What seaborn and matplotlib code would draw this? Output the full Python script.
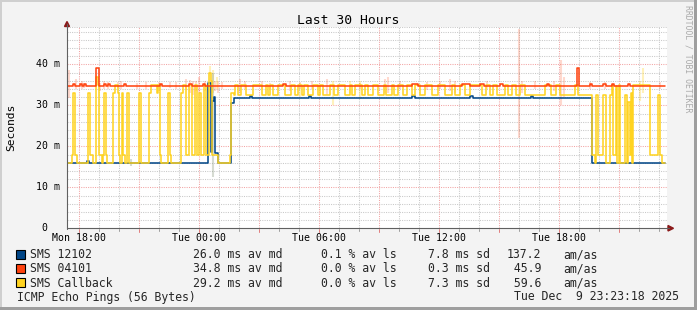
import numpy as np
import pandas as pd
import matplotlib
matplotlib.use("Agg")
import matplotlib.pyplot as plt
import seaborn as sns
from matplotlib.patches import Rectangle, Polygon
from matplotlib.lines import Line2D
from matplotlib.transforms import blended_transform_factory

W, H = 697, 310

# ---------------- data (time = hours since Mon 00:00, value = ms) ----------------
blue_t = [17.40, 18.40, 18.50, 24.45, 24.58, 24.67, 24.75, 24.82, 24.97, 25.60, 25.75,
          26.55, 26.65, 29.50, 29.60, 34.65, 34.80, 37.55, 37.70, 40.60, 40.70,
          43.63, 47.30]
blue_v = [16.0, 16.4, 16.0, 35.5, 18.5, 31.0, 32.0, 18.3, 16.0, 30.5, 31.9,
          32.3, 31.9, 32.3, 31.9, 32.3, 31.9, 32.3, 31.9, 32.3, 31.9,
          16.0, 16.0]

red_t = [17.40, 17.70, 17.80, 18.05, 18.15, 18.25, 18.35, 18.87, 19.02, 19.25, 19.35,
         19.45, 19.55, 20.25, 20.35, 22.05, 22.15, 23.50, 23.65, 24.20, 24.30,
         28.20, 28.35, 34.65, 34.95, 37.15, 37.55, 38.05, 38.25, 39.05, 39.20,
         41.40, 41.50, 42.875, 42.985, 43.55, 43.65, 44.20, 44.35, 44.65, 44.75,
         45.45, 45.55, 47.30]
red_v = [34.8, 35.1, 34.8, 35.1, 34.8, 35.1, 34.8, 39.0, 34.8, 35.1, 34.8,
         35.1, 34.8, 35.1, 34.8, 35.1, 34.8, 35.1, 34.8, 35.1, 34.8,
         35.1, 34.8, 35.1, 34.8, 35.2, 34.8, 35.1, 34.8, 35.1, 34.8,
         35.1, 34.8, 39.0, 34.8, 35.1, 34.8, 35.1, 34.8, 35.1, 34.8,
         35.1, 34.8, 34.8]

# SMS Callback: first part (oscillating between ~16 and ~35)
yel_a_t = [17.40, 17.65, 17.70, 17.79, 17.90, 18.45, 18.55, 18.69, 18.87, 18.97, 19.02,
           19.15, 19.20, 19.27, 19.37, 19.42, 19.72, 19.80, 19.97, 20.02, 20.07,
           20.14, 20.22, 20.28, 20.39, 20.50, 21.00, 21.10, 21.52, 21.60, 21.88,
           21.95, 22.04, 22.10, 22.47, 22.57, 22.62, 23.115, 23.20, 23.36, 23.52,
           23.64, 23.78, 23.88, 24.00, 24.12, 24.24, 24.34, 24.485, 24.575, 24.635,
           24.97, 25.57, 25.60, 25.75]
yel_a_v = [16.0, 18.0, 33.0, 18.0, 16.0, 33.0, 18.0, 16.0, 37.0, 35.0, 18.0,
           16.0, 18.0, 33.0, 18.0, 16.0, 33.0, 35.0, 33.0, 18.0, 16.0,
           33.0, 18.0, 16.0, 33.0, 16.0, 33.0, 16.0, 33.0, 35.0, 33.0,
           35.0, 18.0, 16.0, 33.0, 18.0, 16.0, 33.0, 35.0, 18.0, 35.0,
           18.0, 35.0, 18.0, 33.0, 18.0, 35.0, 18.0, 38.0, 36.0, 18.0,
           16.0, 18.0, 33.0, 32.4]
# middle part: pulses up to 35 ms from a 32.4 ms base
yel_hi_start = [25.80, 26.10, 26.70, 27.35, 27.55, 27.95, 28.60, 28.95, 29.25, 29.70,
                30.05, 30.55, 30.95, 31.55, 31.80, 32.30, 32.70, 33.25, 33.65, 33.95,
                34.40, 34.80, 35.30, 35.95, 36.65, 37.05, 37.55, 38.35, 38.70, 39.30,
                39.65, 40.05, 41.30, 41.85, 42.80]
yel_hi_end = [25.95, 26.35, 27.15, 27.45, 27.70, 28.30, 28.80, 29.15, 29.45, 29.95,
              30.20, 30.75, 31.30, 31.65, 32.15, 32.45, 32.95, 33.35, 33.75, 34.20,
              34.65, 35.05, 35.65, 36.30, 36.80, 37.30, 38.15, 38.55, 38.90, 39.45,
              39.85, 40.30, 41.60, 42.05, 42.95]
yel_hi_val = 35.0
yel_lo_val = 32.4
# last part
yel_c_t = [43.635, 43.80, 43.85, 43.97, 44.21, 44.33, 44.55, 44.65, 44.72, 44.85, 44.90,
           45.00, 45.07, 45.30, 45.40, 45.47, 45.55, 45.60, 45.65, 45.715, 46.55,
           46.965, 47.065, 47.15, 47.30]
yel_c_v = [18.0, 16.0, 32.6, 18.0, 32.6, 16.0, 32.6, 35.0, 18.0, 34.7, 16.0,
           35.0, 16.0, 32.6, 16.0, 30.8, 18.0, 33.0, 16.0, 35.0, 18.0,
           32.6, 18.0, 16.0, 16.0]

# "smoke" (spread of the pings) per host: time, low, high
red_smoke_t = [17.475, 17.85, 18.15, 18.25, 19.05, 19.25, 19.45, 19.95, 20.10, 20.90,
               21.35, 22.00, 22.55, 22.85, 23.35, 23.55, 23.70, 23.85, 24.00, 24.30,
               24.80, 24.95, 25.15, 26.05, 26.30, 27.15, 27.55, 28.55, 29.05, 29.65,
               30.40, 32.05, 33.30, 33.45, 34.05, 35.40, 36.05, 36.55, 36.80, 38.40,
               40.00, 40.15, 40.80, 41.75, 42.10, 42.25, 43.55, 44.30, 47.05]
red_smoke_lo = [31.7, 34.0, 34.0, 34.2, 33.5, 34.0, 34.0, 34.2, 34.0, 34.0,
                34.0, 33.5, 34.2, 34.0, 33.8, 33.0, 32.5, 33.5, 33.0, 33.5,
                33.5, 33.0, 34.0, 33.0, 34.0, 34.0, 34.0, 33.5, 34.0, 34.0,
                32.5, 34.0, 33.0, 33.0, 34.0, 33.8, 34.0, 33.5, 33.0, 34.0,
                22.0, 33.0, 34.0, 33.5, 30.0, 32.0, 34.0, 34.0, 34.0]
red_smoke_hi = [38.5, 36.5, 36.0, 35.5, 35.5, 36.0, 35.8, 35.8, 36.0, 35.5,
                35.6, 35.8, 35.6, 35.8, 36.5, 36.2, 36.0, 36.0, 37.0, 36.0,
                36.0, 36.0, 35.8, 36.5, 36.0, 36.0, 35.5, 36.0, 35.8, 36.0,
                36.5, 35.5, 36.5, 37.0, 36.0, 35.8, 36.0, 36.5, 36.0, 36.0,
                48.5, 36.0, 36.0, 36.0, 41.0, 37.0, 35.6, 35.6, 35.6]
yel_smoke_t = [24.55, 24.70, 24.90, 29.05, 30.70, 31.55, 32.05, 46.05, 46.20]
yel_smoke_lo = [33.0, 33.0, 34.0, 32.0, 30.0, 33.0, 31.5, 31.0, 33.0]
yel_smoke_hi = [39.5, 38.5, 37.0, 35.5, 36.0, 36.0, 36.0, 36.0, 39.0]
blue_smoke_t = [20.575, 24.675]
blue_smoke_lo = [15.3, 12.5]
blue_smoke_hi = [17.0, 38.0]

hosts = ["SMS 12102", "SMS 04101", "SMS Callback"]
colors = ["#004586", "#ff420e", "#ffd320"]
legend_avg = ["26.0 ms av md", "34.8 ms av md", "29.2 ms av md"]
legend_loss = ["0.1 % av ls", "0.0 % av ls", "0.0 % av ls"]
legend_sd = ["7.8 ms sd", "0.3 ms sd", "7.3 ms sd"]
legend_amas = ["137.2", " 45.9", " 59.6"]

x_tick_hours = [18, 24, 30, 36, 42]
x_tick_labels = ["Mon 18:00", "Tue 00:00", "Tue 06:00", "Tue 12:00", "Tue 18:00"]
y_tick_vals = [0, 10, 20, 30, 40]
y_tick_labels = ["0", "10 m", "20 m", "30 m", "40 m"]

title = "Last 30 Hours"
y_label = "Seconds"
footer_left = "ICMP Echo Pings (56 Bytes)"
footer_right = "Tue Dec  9 23:23:18 2025"
watermark = "RRDTOOL / TOBI OETIKER"

# ---------------- build yellow series ----------------
yel_t = list(yel_a_t)
yel_v = list(yel_a_v)
for s, e in zip(yel_hi_start, yel_hi_end):
    yel_t += [s, e]
    yel_v += [yel_hi_val, yel_lo_val]
yel_t += yel_c_t
yel_v += yel_c_v

df = pd.concat([
    pd.DataFrame({"t": blue_t, "v": blue_v, "host": hosts[0]}),
    pd.DataFrame({"t": red_t, "v": red_v, "host": hosts[1]}),
    pd.DataFrame({"t": yel_t, "v": yel_v, "host": hosts[2]}),
])

# ---------------- figure ----------------
sns.set_theme(style="white")
plt.rcParams['font.family'] = ['DejaVu Sans Mono', 'DejaVu Sans']

fig = plt.figure(figsize=(W / 100, H / 100), dpi=100)
fig.patch.set_facecolor("#F3F3F3")

def fx(x):
    return x / W

def fy(y):
    return 1 - y / H

X0, X1, Y0, Y1 = 67, 667, 228.3, 27
ax = fig.add_axes([fx(X0), fy(Y0), (X1 - X0) / W, (Y0 - Y1) / H])
ax.set_facecolor("white")
ax.set_xlim(17.4, 47.4)
ax.set_ylim(0, (Y0 - Y1) / 4.1)
for s in ax.spines.values():
    s.set_visible(False)

# grid (dotted)
dot = (0, (1, 1.2))
gw = 0.75
minor_c = "#C8C8C8"
major_c = "#F2A4A4"
for v in np.arange(2, 50, 2):
    if v % 10 == 0:
        continue
    ax.axhline(v, color=minor_c, lw=gw, ls=dot, zorder=0)
ax.axhline(ax.get_ylim()[1] - 0.05, color=minor_c, lw=gw, ls=dot, zorder=0)
for h in np.arange(18, 48, 1):
    if h % 3 == 0:
        continue
    ax.axvline(h, color=minor_c, lw=gw, ls=dot, zorder=0)
for v in [10, 20, 30, 40]:
    ax.axhline(v, color=major_c, lw=gw, ls=dot, zorder=0.5)
for h in np.arange(18, 48, 3):
    ax.axvline(h, color=major_c, lw=gw, ls=dot, zorder=0.5)

# smoke
ax.vlines(red_smoke_t, red_smoke_lo, red_smoke_hi, color=colors[1], alpha=0.2, lw=1.5, zorder=1)
ax.vlines(yel_smoke_t, yel_smoke_lo, yel_smoke_hi, color=colors[2], alpha=0.3, lw=1.5, zorder=1)
ax.vlines(blue_smoke_t, blue_smoke_lo, blue_smoke_hi, color="#8a9a80", alpha=0.35, lw=1.5, zorder=1)

# lines
order = [(0, 2), (2, 3), (1, 4)]
for i, z in order:
    sub = df[df["host"] == hosts[i]]
    sns.lineplot(data=sub, x="t", y="v", ax=ax, color=colors[i], lw=1.12,
                 drawstyle="steps-post", estimator=None, sort=False, zorder=z,
                 legend=False)
ax.set_xlabel("")
ax.set_ylabel("")
ax.set_xticks([])
ax.set_yticks([])

# axis lines and arrows
axis_col = "#606060"
arrow_col = "#8B1A1A"
fig.add_artist(Line2D([fx(67), fx(67)], [fy(228.5), fy(24)], color=axis_col, lw=0.8,
                      transform=fig.transFigure))
fig.add_artist(Line2D([fx(66.5), fx(669)], [fy(228.3), fy(228.3)], color=axis_col, lw=0.8,
                      transform=fig.transFigure))
fig.add_artist(Polygon([[fx(64.5), fy(26.5)], [fx(69.5), fy(26.5)], [fx(67), fy(21.5)]],
                       closed=True, color=arrow_col, transform=fig.transFigure))
fig.add_artist(Polygon([[fx(668), fy(225.5)], [fx(668), fy(231)], [fx(673.5), fy(228.3)]],
                       closed=True, color=arrow_col, transform=fig.transFigure))

# x tick marks and labels
xt_trans = blended_transform_factory(ax.transData, fig.transFigure)
for h in np.arange(18, 48, 1):
    ln = 3 if h % 3 == 0 else 2
    c = "#E08080" if h % 3 == 0 else "#A0A0A0"
    fig.add_artist(Line2D([h, h], [fy(228.5), fy(228.5 + ln)], color=c, lw=0.72,
                          transform=xt_trans))
for h, lab in zip(x_tick_hours, x_tick_labels):
    fig.text(h, fy(241.3), lab, transform=xt_trans, ha="center", va="baseline",
             fontsize=7.1, color="#000000")

# y tick labels
yt_trans = blended_transform_factory(fig.transFigure, ax.transData)
for v, lab in zip(y_tick_vals, y_tick_labels):
    x_start = 41.7 if len(lab) == 1 else 35.7
    fig.text(fx(x_start), v, lab, transform=yt_trans, ha="left", va="center",
             fontsize=7.1, color="#000000")

# title, y label, watermark
fig.text(0.5, fy(24.3), title, ha="center", va="baseline", fontsize=9.4, color="#000000")
fig.text(fx(11), fy(127), y_label, ha="center", va="center", rotation=90,
         fontsize=8.1, color="#000000")
fig.text(fx(688), fy(59), watermark, ha="center", va="center", rotation=270,
         fontsize=5.9, color="#AAAAAA")

# legend
fs = 8.3
row_base = [258.3, 272.5, 286.6]
for i in range(3):
    yb = row_base[i]
    fig.add_artist(Rectangle((fx(15.5), fy(yb + 0.7)), 9.5 / W, 9.5 / H, facecolor=colors[i],
                             edgecolor="black", lw=0.8, transform=fig.transFigure))
    fig.text(fx(30), fy(yb), hosts[i], ha="left", va="baseline", fontsize=fs)
    fig.text(fx(193.3), fy(yb), legend_avg[i], ha="left", va="baseline", fontsize=fs)
    fig.text(fx(321), fy(yb), legend_loss[i], ha="left", va="baseline", fontsize=fs)
    fig.text(fx(428.3), fy(yb), legend_sd[i], ha="left", va="baseline", fontsize=fs)
    fig.text(fx(506.7), fy(yb), legend_amas[i], ha="left", va="baseline", fontsize=fs)
    fig.text(fx(563.3), fy(yb), "am/as", ha="left", va="baseline", fontsize=fs)
fig.text(fx(16.7), fy(300.5), footer_left, ha="left", va="baseline", fontsize=fs)
fig.text(fx(513.5), fy(300.5), footer_right, ha="left", va="baseline", fontsize=fs)

# 3D border
fig.add_artist(Rectangle((0, fy(2)), 1, 2 / H, facecolor="#CFCFCF", edgecolor="none",
                         transform=fig.transFigure))
fig.add_artist(Rectangle((0, 0), 2 / W, 1, facecolor="#CFCFCF", edgecolor="none",
                         transform=fig.transFigure))
fig.add_artist(Rectangle((0, 0), 1, 3 / H, facecolor="#9E9E9E", edgecolor="none",
                         transform=fig.transFigure))
fig.add_artist(Rectangle((fx(694), 0), 3 / W, 1, facecolor="#9E9E9E", edgecolor="none",
                         transform=fig.transFigure))

fig.savefig("out.png", dpi=100, facecolor=fig.get_facecolor())
